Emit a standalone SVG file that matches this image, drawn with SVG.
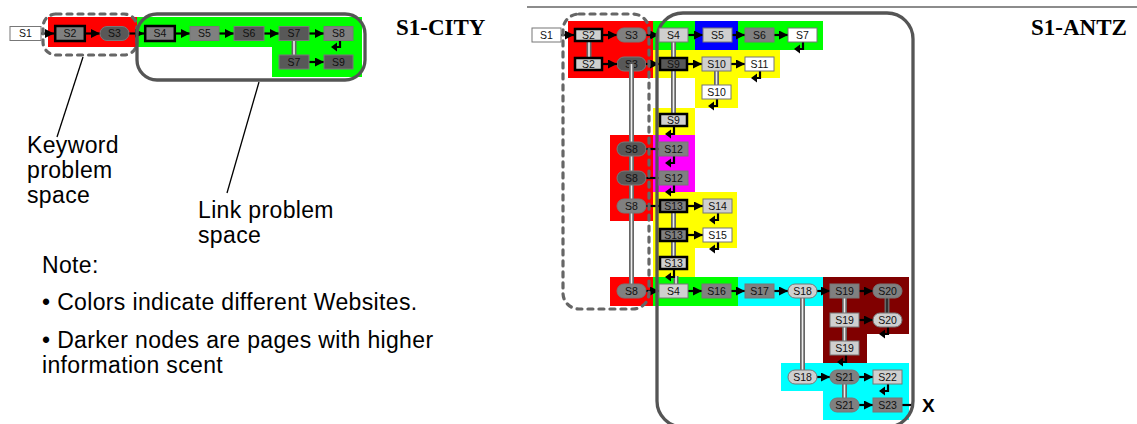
<svg xmlns="http://www.w3.org/2000/svg" xmlns:xlink="http://www.w3.org/1999/xlink" width="1137" height="424" viewBox="0 0 1137 424">
<defs>
<style>
.n{stroke:#777;stroke-width:1}
.k{stroke:#000;stroke-width:2.5}
.lt{fill:#cfcfcf}.md{fill:#808080}.dk{fill:#585858}.wh{fill:#fff}
.t{font-family:"Liberation Sans",Arial,sans-serif;font-size:10.5px;text-anchor:middle;fill:#111}
.lab{font-family:"Liberation Sans",Arial,sans-serif;font-size:23px;letter-spacing:0.35px;fill:#000}
.ttl{font-family:"Liberation Serif","Times New Roman",serif;font-weight:bold;font-size:23px;fill:#000}
.a{stroke:#000;stroke-width:2.2;fill:none;marker-end:url(#ah)}
.p{stroke:#000;stroke-width:2.2;fill:none}
.dbl{stroke:#666;stroke-width:5}
.dbi{stroke:#eee;stroke-width:1.6}
.kw{fill:none;stroke:#666;stroke-width:3.2;stroke-dasharray:5 6;stroke-linecap:round}
.lk{fill:none;stroke:#555;stroke-width:3.3}
.ld{stroke:#000;stroke-width:1.3}
</style>
<marker id="ah" markerUnits="userSpaceOnUse" markerWidth="9" markerHeight="9" refX="9" refY="4.5" orient="auto"><path d="M0,0 L9,4.5 L0,9z" fill="#000"/></marker>
<g id="ret"><path d="M0,0 V7 H-4" fill="none" stroke="#000" stroke-width="2.2"/><path d="M-9,7 L-3,2.5 L-3,11.5z" fill="#000"/></g>
</defs>
<rect width="1137" height="424" fill="#fff"/>

<g id="bg-left">
<rect x="48" y="17" width="89" height="30" fill="#f00"/>
<polygon points="137,17 362,17 362,77 272,77 272,47 137,47" fill="#0f0"/>
</g>

<g id="bg-right">
<line x1="527" y1="7" x2="1137" y2="7" stroke="#666" stroke-width="1.5"/>
<rect x="568" y="21" width="85" height="57" fill="#f00"/>
<rect x="653" y="21" width="42" height="29" fill="#0f0"/>
<rect x="695" y="21" width="43" height="29" fill="#00f"/>
<rect x="738" y="21" width="85" height="29" fill="#0f0"/>
<polygon points="653,50 780,50 780,78 738,78 738,108 695,108 695,78 653,78" fill="#ff0"/>
<rect x="653" y="108" width="42" height="27" fill="#ff0"/>
<rect x="653" y="135" width="42" height="57" fill="#f0f"/>
<rect x="610" y="135" width="43" height="86" fill="#f00"/>
<polygon points="653,192 737,192 737,248 695,248 695,277 653,277" fill="#ff0"/>
<rect x="610" y="277" width="43" height="29" fill="#f00"/>
<rect x="653" y="277" width="85" height="29" fill="#0f0"/>
<rect x="738" y="277" width="85" height="29" fill="#0ff"/>
<polygon points="823,277 909,277 909,334 867,334 867,363 823,363" fill="#800000"/>
<polygon points="781,363 909,363 909,420 823,420 823,391 781,391" fill="#0ff"/>
</g>

<g id="r-S3b"><rect class="n dk" x="617" y="57" width="29" height="14" rx="7"/><text class="t" x="631.5" y="67.7">S3</text></g>

<g id="connectors">
<line class="a" x1="41" y1="33.5" x2="54" y2="33.5"/>
<line class="a" x1="86" y1="33.5" x2="100" y2="33.5"/>
<line class="a" x1="129" y1="33.5" x2="144" y2="33.5"/>
<line class="a" x1="176" y1="33.5" x2="190" y2="33.5"/>
<line class="a" x1="219" y1="33.5" x2="234" y2="33.5"/>
<line class="a" x1="264" y1="33.5" x2="279" y2="33.5"/>
<line class="a" x1="309" y1="33.5" x2="324" y2="33.5"/>
<line class="a" x1="309" y1="62" x2="324" y2="62"/>
<line class="dbl" x1="294" y1="40" x2="294" y2="55"/><line class="dbi" x1="294" y1="40" x2="294" y2="55"/>
<use href="#ret" xlink:href="#ret" x="340" y="40"/>
<line class="ld" x1="83" y1="57" x2="57" y2="137"/>
<line class="ld" x1="259" y1="82" x2="227" y2="193"/>
<line class="a" x1="561" y1="35" x2="574" y2="35"/>
<line class="a" x1="603" y1="35" x2="617" y2="35"/>
<line class="a" x1="646" y1="35" x2="659" y2="35"/>
<line class="a" x1="688" y1="35" x2="703" y2="35"/>
<line class="a" x1="732" y1="35" x2="745" y2="35"/>
<line class="a" x1="774" y1="35" x2="788" y2="35"/>
<line class="a" x1="603" y1="64" x2="617" y2="64"/>
<line class="a" x1="646" y1="64" x2="659" y2="64"/>
<line class="a" x1="688" y1="64" x2="702" y2="64"/>
<line class="a" x1="731" y1="64" x2="745" y2="64"/>
<line class="p" x1="646" y1="149" x2="659" y2="149"/>
<line class="p" x1="646" y1="178" x2="659" y2="178"/>
<line class="p" x1="646" y1="206" x2="659" y2="206"/>
<line class="a" x1="688" y1="206" x2="703" y2="206"/>
<line class="a" x1="688" y1="235" x2="703" y2="235"/>
<line class="a" x1="646" y1="291" x2="659" y2="291"/>
<line class="a" x1="688" y1="291" x2="702" y2="291"/>
<line class="a" x1="731" y1="291" x2="745" y2="291"/>
<line class="a" x1="774" y1="291" x2="788" y2="291"/>
<line class="a" x1="817" y1="291" x2="830" y2="291"/>
<line class="a" x1="859" y1="291" x2="873" y2="291"/>
<line class="a" x1="859" y1="320" x2="873" y2="320"/>
<line class="a" x1="817" y1="377" x2="830" y2="377"/>
<line class="a" x1="859" y1="377" x2="873" y2="377"/>
<line class="a" x1="859" y1="405" x2="873" y2="405"/>
<line class="p" x1="902" y1="405" x2="913" y2="405"/>
<line class="dbl" x1="589" y1="42" x2="589" y2="57"/><line class="dbi" x1="589" y1="42" x2="589" y2="57"/>
<line class="dbl" x1="673.5" y1="42" x2="673.5" y2="57"/><line class="dbi" x1="673.5" y1="42" x2="673.5" y2="57"/>
<line class="dbl" x1="716.5" y1="71" x2="716.5" y2="85"/><line class="dbi" x1="716.5" y1="71" x2="716.5" y2="85"/>
<line class="dbl" x1="673.5" y1="71" x2="673.5" y2="113"/><line class="dbi" x1="673.5" y1="71" x2="673.5" y2="113"/>
<line class="dbl" x1="631.5" y1="64" x2="631.5" y2="286"/><line class="dbi" x1="631.5" y1="64" x2="631.5" y2="286"/>
<line class="dbl" x1="673.5" y1="213" x2="673.5" y2="228"/><line class="dbi" x1="673.5" y1="213" x2="673.5" y2="228"/>
<line class="dbl" x1="673.5" y1="242" x2="673.5" y2="256"/><line class="dbi" x1="673.5" y1="242" x2="673.5" y2="256"/>
<line class="dbl" x1="676" y1="276" x2="676" y2="284"/><line class="dbi" x1="676" y1="276" x2="676" y2="284"/>
<line class="dbl" x1="844.5" y1="298" x2="844.5" y2="313"/><line class="dbi" x1="844.5" y1="298" x2="844.5" y2="313"/>
<line class="dbl" x1="844.5" y1="327" x2="844.5" y2="341"/><line class="dbi" x1="844.5" y1="327" x2="844.5" y2="341"/>
<line class="dbl" x1="887" y1="298" x2="887" y2="313"/><line stroke="#222" stroke-width="1.6" x1="887" y1="298" x2="887" y2="313"/>
<line class="dbl" x1="802.5" y1="298" x2="802.5" y2="370"/><line class="dbi" x1="802.5" y1="298" x2="802.5" y2="370"/>
<line class="dbl" x1="844.5" y1="384" x2="844.5" y2="398"/><line class="dbi" x1="844.5" y1="384" x2="844.5" y2="398"/>
<use href="#ret" xlink:href="#ret" x="803" y="42"/>
<use href="#ret" xlink:href="#ret" x="760" y="71"/>
<use href="#ret" xlink:href="#ret" x="717" y="99"/>
<use href="#ret" xlink:href="#ret" x="674" y="127"/>
<use href="#ret" xlink:href="#ret" x="674" y="156"/>
<use href="#ret" xlink:href="#ret" x="674" y="185"/>
<use href="#ret" xlink:href="#ret" x="718" y="213"/>
<use href="#ret" xlink:href="#ret" x="718" y="242"/>
<use href="#ret" xlink:href="#ret" x="674" y="270"/>
<use href="#ret" xlink:href="#ret" x="888" y="327"/>
<use href="#ret" xlink:href="#ret" x="846" y="355"/>
<use href="#ret" xlink:href="#ret" x="888" y="384"/>
</g>

<g id="problem-spaces">
<rect class="kw" x="43" y="14" width="94" height="41" rx="13"/>
<rect class="lk" x="137" y="14" width="228" height="66" rx="20"/>
<rect class="kw" x="563" y="14" width="86" height="295" rx="16"/>
<rect class="lk" x="657" y="13" width="256" height="414" rx="26"/>
</g>

<g id="l-S1"><rect class="n wh" x="10" y="26.5" width="31" height="14"/><text class="t" x="25.5" y="37.2">S1</text></g>
<g id="l-S2"><rect class="k md" x="55.2" y="26" width="29.6" height="15"/><text class="t" x="70" y="37.2">S2</text></g>
<g id="l-S3"><rect class="n dk" x="100" y="26.5" width="29" height="14" rx="7"/><text class="t" x="114.5" y="37.2">S3</text></g>
<g id="l-S4"><rect class="k md" x="145.2" y="26" width="29.6" height="15"/><text class="t" x="160" y="37.2">S4</text></g>
<g id="l-S5"><rect class="n md" x="190" y="26.5" width="29" height="14"/><text class="t" x="204.5" y="37.2">S5</text></g>
<g id="l-S6"><rect class="n dk" x="234" y="26.5" width="30" height="14"/><text class="t" x="249" y="37.2">S6</text></g>
<g id="l-S7"><rect class="n dk" x="279" y="26.5" width="30" height="14"/><text class="t" x="294" y="37.2">S7</text></g>
<g id="l-S8"><rect class="n md" x="324" y="26.5" width="29" height="14"/><text class="t" x="338.5" y="37.2">S8</text></g>
<g id="l-S7b"><rect class="n dk" x="279" y="55" width="30" height="14"/><text class="t" x="294" y="65.7">S7</text></g>
<g id="l-S9"><rect class="n dk" x="324" y="55" width="29" height="14"/><text class="t" x="338.5" y="65.7">S9</text></g>

<g id="r-S1"><rect class="n wh" x="532" y="28" width="29" height="14"/><text class="t" x="546.5" y="38.7">S1</text></g>
<g id="r-S2a"><rect class="k lt" x="575" y="29" width="27" height="12"/><text class="t" x="588.5" y="38.7">S2</text></g>
<g id="r-S3a"><rect class="n md" x="617" y="28" width="29" height="14" rx="7"/><text class="t" x="631.5" y="38.7">S3</text></g>
<g id="r-S4a"><rect class="n lt" x="659" y="28" width="29" height="14"/><text class="t" x="673.5" y="38.7">S4</text></g>
<g id="r-S5"><rect class="n lt" x="703" y="28" width="29" height="14"/><text class="t" x="717.5" y="38.7">S5</text></g>
<g id="r-S6"><rect class="n md" x="745" y="28" width="29" height="14"/><text class="t" x="759.5" y="38.7">S6</text></g>
<g id="r-S7"><rect class="n wh" x="788" y="28" width="29" height="14"/><text class="t" x="802.5" y="38.7">S7</text></g>
<g id="r-S2b"><rect class="k lt" x="575" y="58" width="27" height="12"/><text class="t" x="588.5" y="67.7">S2</text></g>
<g id="r-S9a"><rect class="k dk" x="660" y="58" width="27" height="12"/><text class="t" x="673.5" y="67.7">S9</text></g>
<g id="r-S10a"><rect class="n lt" x="702" y="57" width="29" height="14"/><text class="t" x="716.5" y="67.7">S10</text></g>
<g id="r-S11"><rect class="n wh" x="745" y="57" width="29" height="14"/><text class="t" x="759.5" y="67.7">S11</text></g>
<g id="r-S10b"><rect class="n wh" x="702" y="85" width="29" height="14"/><text class="t" x="716.5" y="95.7">S10</text></g>
<g id="r-S9b"><rect class="k lt" x="660" y="114" width="27" height="12"/><text class="t" x="673.5" y="123.7">S9</text></g>
<g id="r-S8a"><rect class="n dk" x="617" y="142" width="29" height="14" rx="7"/><text class="t" x="631.5" y="152.7">S8</text></g>
<g id="r-S12a"><rect class="n md" x="659" y="142" width="29" height="14"/><text class="t" x="673.5" y="152.7">S12</text></g>
<g id="r-S8b"><rect class="n dk" x="617" y="171" width="29" height="14" rx="7"/><text class="t" x="631.5" y="181.7">S8</text></g>
<g id="r-S12b"><rect class="n md" x="659" y="171" width="29" height="14"/><text class="t" x="673.5" y="181.7">S12</text></g>
<g id="r-S8c"><rect class="n md" x="617" y="199" width="29" height="14" rx="7"/><text class="t" x="631.5" y="209.7">S8</text></g>
<g id="r-S13a"><rect class="k md" x="660" y="200" width="27" height="12"/><text class="t" x="673.5" y="209.7">S13</text></g>
<g id="r-S14"><rect class="n lt" x="703" y="199" width="29" height="14"/><text class="t" x="717.5" y="209.7">S14</text></g>
<g id="r-S13b"><rect class="k md" x="660" y="229" width="27" height="12"/><text class="t" x="673.5" y="238.7">S13</text></g>
<g id="r-S15"><rect class="n wh" x="703" y="228" width="29" height="14"/><text class="t" x="717.5" y="238.7">S15</text></g>
<g id="r-S13c"><rect class="k lt" x="660" y="257" width="27" height="12"/><text class="t" x="673.5" y="266.7">S13</text></g>
<g id="r-S8d"><rect class="n md" x="617" y="284" width="29" height="14" rx="7"/><text class="t" x="631.5" y="294.7">S8</text></g>
<g id="r-S4b"><rect class="n lt" x="659" y="284" width="29" height="14"/><text class="t" x="673.5" y="294.7">S4</text></g>
<g id="r-S16"><rect class="n md" x="702" y="284" width="29" height="14"/><text class="t" x="716.5" y="294.7">S16</text></g>
<g id="r-S17"><rect class="n md" x="745" y="284" width="29" height="14"/><text class="t" x="759.5" y="294.7">S17</text></g>
<g id="r-S18a"><rect class="n lt" x="788" y="284" width="29" height="14" rx="7"/><text class="t" x="802.5" y="294.7">S18</text></g>
<g id="r-S19a"><rect class="n md" x="830" y="284" width="29" height="14"/><text class="t" x="844.5" y="294.7">S19</text></g>
<g id="r-S20a"><rect class="n md" x="873" y="284" width="29" height="14" rx="7"/><text class="t" x="887.5" y="294.7">S20</text></g>
<g id="r-S19b"><rect class="n lt" x="830" y="313" width="29" height="14"/><text class="t" x="844.5" y="323.7">S19</text></g>
<g id="r-S20b"><rect class="n lt" x="873" y="313" width="29" height="14" rx="7"/><text class="t" x="887.5" y="323.7">S20</text></g>
<g id="r-S19c"><rect class="n lt" x="830" y="341" width="29" height="14"/><text class="t" x="844.5" y="351.7">S19</text></g>
<g id="r-S18b"><rect class="n lt" x="788" y="370" width="29" height="14" rx="7"/><text class="t" x="802.5" y="380.7">S18</text></g>
<g id="r-S21a"><rect class="n md" x="830" y="370" width="29" height="14" rx="7"/><text class="t" x="844.5" y="380.7">S21</text></g>
<g id="r-S22"><rect class="n lt" x="873" y="370" width="29" height="14"/><text class="t" x="887.5" y="380.7">S22</text></g>
<g id="r-S21b"><rect class="n md" x="830" y="398" width="29" height="14" rx="7"/><text class="t" x="844.5" y="408.7">S21</text></g>
<g id="r-S23"><rect class="n md" x="873" y="398" width="29" height="14"/><text class="t" x="887.5" y="408.7">S23</text></g>

<g id="labels">
<text class="ttl" x="396" y="35">S1-CITY</text>
<text class="ttl" x="1031" y="35">S1-ANTZ</text>
<text x="922" y="412" font-family="'Liberation Sans',Arial,sans-serif" font-weight="bold" font-size="19">X</text>
<text class="lab" x="27" y="153">Keyword</text>
<text class="lab" x="27" y="178">problem</text>
<text class="lab" x="27" y="203">space</text>
<text class="lab" x="198" y="218">Link problem</text>
<text class="lab" x="198" y="243">space</text>
<text class="lab" x="42" y="273">Note:</text>
<text class="lab" x="42" y="310">• Colors indicate different Websites.</text>
<text class="lab" x="42" y="348">• Darker nodes are pages with higher</text>
<text class="lab" x="42" y="373">information scent</text>
</g>
</svg>
